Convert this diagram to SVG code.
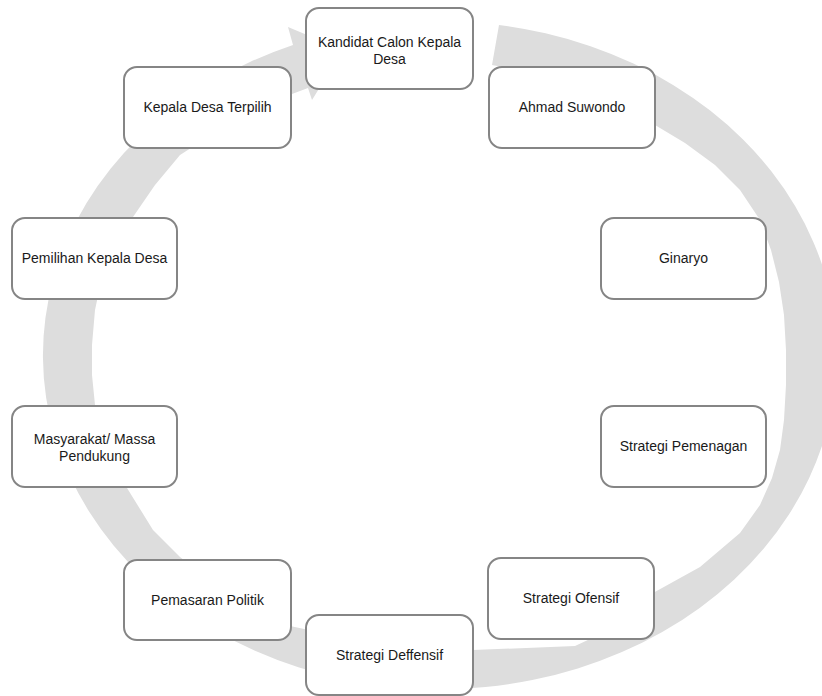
<svg xmlns="http://www.w3.org/2000/svg" width="822" height="696" viewBox="0 0 822 696">
<style>
.box{fill:#ffffff;stroke:#858585;stroke-width:2}
.lbl{font-family:"Liberation Sans",Arial,sans-serif;font-size:14px;fill:#1a1a1a;text-anchor:middle}
.band{fill:#dddddd;stroke:none}
</style>
<rect width="822" height="696" fill="#ffffff"/>
<g id="connectors">
<path class="band" d="M 499 25 A 397 334 0 1 1 293 45 L 288 27 L 343 50 L 312 100 L 308 88 L 260 106 L 230 123 L 180 155 L 155 185 L 133 217 L 115 245 L 102 277 L 95 310 L 92 345 L 92 375 L 95 405 L 104 438 L 114 462 L 127 488 L 153 530 L 180 557 L 235 600 L 290 626 L 380 645 L 473 650 L 575 646 L 620 625 L 653 593 L 700 567 L 740 533 L 760 505 L 772 478 L 780 450 L 784 420 L 786 385 L 786 350 L 784 315 L 779 282 L 771 250 L 760 220 L 740 190 L 715 165 L 685 143 L 655 125 L 600 95 L 545 75 L 492 65 Z"/>
</g>
<g id="node-kandidat">
<rect class="box" x="306" y="8" width="167" height="81" rx="13"/>
<text class="lbl" x="389.5" y="47">Kandidat Calon Kepala</text>
<text class="lbl" x="389.5" y="64">Desa</text>
</g>
<g id="node-ahmad">
<rect class="box" x="489" y="67" width="166" height="81" rx="13"/>
<text class="lbl" x="572" y="112">Ahmad Suwondo</text>
</g>
<g id="node-ginaryo">
<rect class="box" x="601" y="218" width="165" height="81" rx="13"/>
<text class="lbl" x="683.5" y="263">Ginaryo</text>
</g>
<g id="node-pemenagan">
<rect class="box" x="601" y="406" width="165" height="81" rx="13"/>
<text class="lbl" x="683.5" y="451">Strategi Pemenagan</text>
</g>
<g id="node-ofensif">
<rect class="box" x="488" y="558" width="166" height="81" rx="13"/>
<text class="lbl" x="571" y="603">Strategi Ofensif</text>
</g>
<g id="node-deffensif">
<rect class="box" x="306" y="615" width="167" height="80" rx="13"/>
<text class="lbl" x="389.5" y="660">Strategi Deffensif</text>
</g>
<g id="node-pemasaran">
<rect class="box" x="124" y="560" width="167" height="80" rx="13"/>
<text class="lbl" x="207.5" y="605">Pemasaran Politik</text>
</g>
<g id="node-masyarakat">
<rect class="box" x="12" y="406" width="165" height="81" rx="13"/>
<text class="lbl" x="94.5" y="444">Masyarakat/ Massa</text>
<text class="lbl" x="94.5" y="461">Pendukung</text>
</g>
<g id="node-pemilihan">
<rect class="box" x="12" y="218" width="165" height="81" rx="13"/>
<text class="lbl" x="94.5" y="263">Pemilihan Kepala Desa</text>
</g>
<g id="node-terpilih">
<rect class="box" x="124" y="67" width="167" height="81" rx="13"/>
<text class="lbl" x="207.5" y="112">Kepala Desa Terpilih</text>
</g>
</svg>
